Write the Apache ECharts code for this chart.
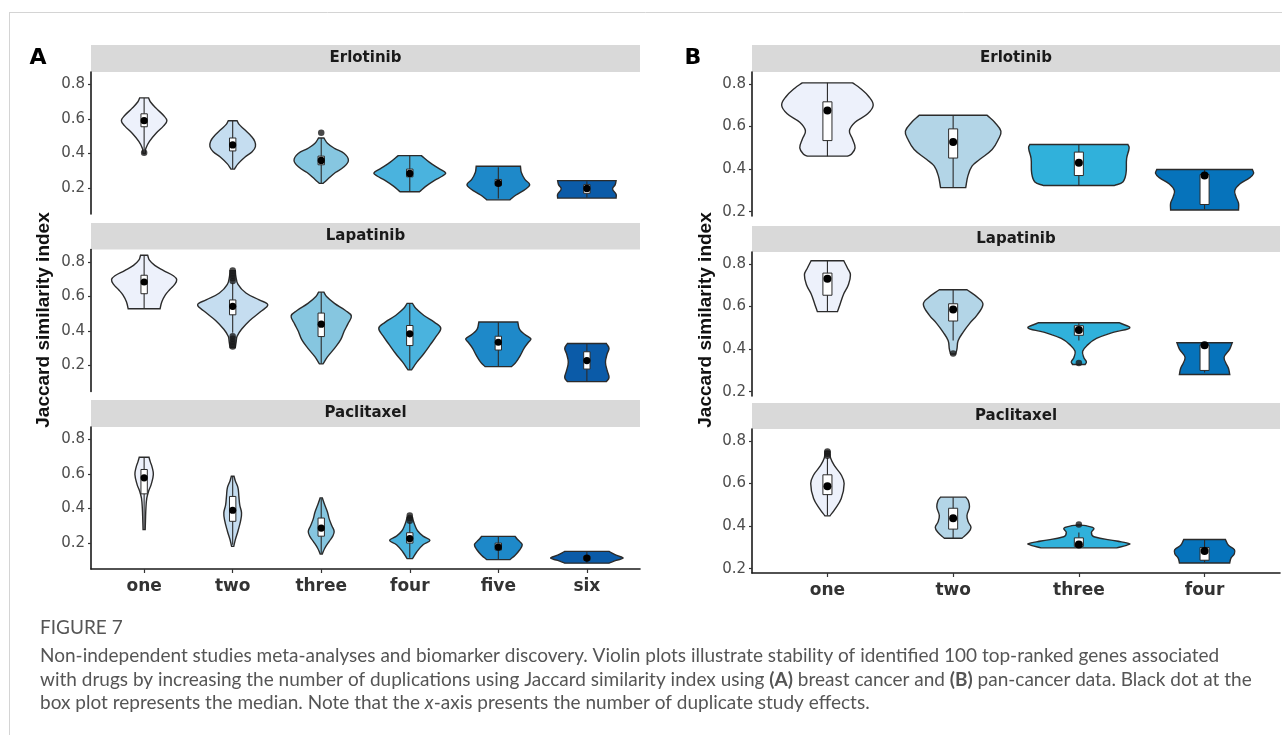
<!DOCTYPE html>
<html>
<head>
<meta charset="utf-8">
<script src="https://cdn.jsdelivr.net/npm/echarts@6/dist/echarts.min.js"></script>
<style>
  html, body { margin: 0; padding: 0; background: #ffffff; }
  #chart { width: 1282px; height: 735px; }
</style>
</head>
<body>
<div id="chart"></div>
<script>
// ---- categories and tick labels ----
const categoriesA = ['one', 'two', 'three', 'four', 'five', 'six'];
const categoriesB = ['one', 'two', 'three', 'four'];
const yTicks = [0.2, 0.4, 0.6, 0.8];
const drugs = ['Erlotinib', 'Lapatinib', 'Paclitaxel'];
const fillsA = ['#edf1fb', '#c5ddf0', '#86c6e0', '#4ab3de', '#1e89c9', '#0b5ba8'];
const fillsB = ['#edf1fb', '#b3d5e7', '#30b1db', '#0673bb'];

// ---- violin outlines: [similarity, half-width in category units], bottom to top ----
// box stats: [lower whisker, Q1, median, Q3, upper whisker]; outliers: [category, similarity]

// (A) breast cancer
const erlotinibA_shape = [
  [[0.40,0.012],[0.43,0.02],[0.47,0.06],[0.52,0.14],[0.56,0.22],[0.59,0.257],[0.62,0.22],[0.66,0.14],[0.70,0.07],[0.722,0.05]],
  [[0.31,0.02],[0.34,0.06],[0.38,0.14],[0.41,0.22],[0.44,0.257],[0.47,0.25],[0.50,0.21],[0.54,0.13],[0.57,0.07],[0.59,0.05]],
  [[0.227,0.02],[0.25,0.07],[0.29,0.16],[0.32,0.25],[0.36,0.307],[0.40,0.26],[0.43,0.15],[0.46,0.07],[0.49,0.03]],
  [[0.179,0.11],[0.21,0.18],[0.245,0.28],[0.27,0.37],[0.287,0.405],[0.31,0.34],[0.35,0.22],[0.388,0.13]],
  [[0.132,0.13],[0.16,0.2],[0.195,0.31],[0.22,0.354],[0.25,0.30],[0.29,0.26],[0.326,0.25]],
  [[0.142,0.33],[0.165,0.33],[0.195,0.29],[0.22,0.32],[0.243,0.33]]
];
const erlotinibA_box = [
  [0.42,0.555,0.59,0.63,0.722],[0.31,0.415,0.45,0.49,0.59],[0.23,0.335,0.36,0.385,0.49],
  [0.18,0.265,0.285,0.31,0.388],[0.14,0.215,0.227,0.25,0.32],[0.145,0.17,0.198,0.22,0.24]
];
const erlotinibA_outliers = [[1,0.405],[3,0.52]];

const lapatinibA_shape = [
  [[0.529,0.18],[0.57,0.2],[0.61,0.24],[0.64,0.29],[0.67,0.345],[0.697,0.368],[0.72,0.33],[0.75,0.22],[0.78,0.12],[0.81,0.06],[0.839,0.04]],
  [[0.305,0.03],[0.34,0.04],[0.37,0.05],[0.41,0.10],[0.46,0.19],[0.51,0.31],[0.552,0.396],[0.58,0.30],[0.62,0.15],[0.67,0.06],[0.72,0.035],[0.75,0.03]],
  [[0.21,0.02],[0.25,0.07],[0.30,0.15],[0.35,0.22],[0.40,0.26],[0.44,0.30],[0.488,0.34],[0.52,0.27],[0.56,0.15],[0.60,0.06],[0.625,0.03]],
  [[0.175,0.02],[0.22,0.08],[0.27,0.16],[0.32,0.23],[0.37,0.30],[0.417,0.35],[0.45,0.28],[0.49,0.16],[0.53,0.07],[0.56,0.03]],
  [[0.194,0.15],[0.22,0.2],[0.26,0.25],[0.30,0.29],[0.335,0.34],[0.355,0.368],[0.38,0.3],[0.41,0.24],[0.452,0.22]],
  [[0.107,0.22],[0.13,0.25],[0.17,0.23],[0.22,0.21],[0.27,0.23],[0.30,0.25],[0.328,0.22]]
];
const lapatinibA_box = [
  [0.53,0.616,0.684,0.723,0.839],[0.39,0.494,0.543,0.58,0.68],[0.21,0.368,0.44,0.504,0.625],
  [0.175,0.316,0.384,0.432,0.56],[0.194,0.29,0.335,0.37,0.452],[0.11,0.18,0.229,0.28,0.328]
];
const lapatinibA_outliers = [[2,0.69],[2,0.705],[2,0.72],[2,0.735],[2,0.75],[2,0.31],[2,0.325],[2,0.34],[2,0.355],[2,0.37]];

const paclitaxelA_shape = [
  [[0.278,0.012],[0.33,0.015],[0.40,0.02],[0.46,0.03],[0.50,0.05],[0.54,0.08],[0.597,0.104],[0.64,0.09],[0.67,0.07],[0.697,0.055]],
  [[0.181,0.012],[0.22,0.03],[0.27,0.06],[0.33,0.09],[0.375,0.1],[0.42,0.08],[0.47,0.07],[0.52,0.06],[0.56,0.03],[0.587,0.015]],
  [[0.137,0.012],[0.17,0.04],[0.21,0.09],[0.24,0.13],[0.268,0.146],[0.30,0.12],[0.34,0.09],[0.38,0.07],[0.42,0.04],[0.462,0.012]],
  [[0.11,0.03],[0.15,0.08],[0.19,0.15],[0.216,0.228],[0.24,0.15],[0.27,0.09],[0.30,0.06],[0.33,0.04],[0.35,0.03]],
  [[0.104,0.13],[0.13,0.19],[0.16,0.24],[0.19,0.27],[0.21,0.24],[0.225,0.21],[0.239,0.19]],
  [[0.084,0.25],[0.10,0.33],[0.113,0.41],[0.13,0.33],[0.152,0.25]]
];
const paclitaxelA_box = [
  [0.28,0.485,0.578,0.626,0.697],[0.19,0.326,0.39,0.47,0.587],[0.14,0.24,0.287,0.345,0.46],
  [0.115,0.20,0.226,0.26,0.32],[0.105,0.16,0.177,0.2,0.235],[0.085,0.1,0.113,0.125,0.15]
];
const paclitaxelA_outliers = [[4,0.33],[4,0.345],[4,0.36]];

// (B) pan-cancer
const erlotinibB_shape = [
  [[0.461,0.16],[0.47,0.19],[0.50,0.22],[0.54,0.2],[0.58,0.175],[0.62,0.22],[0.66,0.32],[0.70,0.364],[0.74,0.33],[0.78,0.26],[0.805,0.2]],
  [[0.313,0.1],[0.367,0.117],[0.414,0.15],[0.445,0.21],[0.492,0.31],[0.54,0.36],[0.578,0.38],[0.62,0.33],[0.653,0.27]],
  [[0.323,0.28],[0.34,0.35],[0.38,0.375],[0.45,0.38],[0.50,0.40],[0.516,0.39]],
  [[0.208,0.27],[0.24,0.27],[0.27,0.25],[0.30,0.24],[0.33,0.28],[0.36,0.36],[0.38,0.39],[0.398,0.38]]
];
const erlotinibB_box = [
  [0.461,0.534,0.675,0.716,0.805],[0.313,0.452,0.527,0.589,0.653],[0.323,0.37,0.43,0.48,0.516],[0.21,0.234,0.37,0.375,0.398]
];
const erlotinibB_outliers = [];

const lapatinibB_shape = [
  [[0.576,0.08],[0.61,0.1],[0.66,0.13],[0.70,0.165],[0.749,0.183],[0.78,0.16],[0.815,0.13]],
  [[0.377,0.02],[0.40,0.03],[0.44,0.04],[0.48,0.08],[0.52,0.13],[0.56,0.19],[0.61,0.237],[0.64,0.2],[0.679,0.11]],
  [[0.328,0.05],[0.34,0.06],[0.36,0.04],[0.39,0.03],[0.42,0.07],[0.45,0.14],[0.48,0.28],[0.50,0.405],[0.524,0.32]],
  [[0.281,0.2],[0.31,0.19],[0.36,0.155],[0.40,0.2],[0.43,0.22]]
];
const lapatinibB_box = [
  [0.576,0.653,0.73,0.757,0.815],[0.44,0.532,0.586,0.613,0.679],[0.44,0.465,0.49,0.51,0.524],[0.29,0.3,0.418,0.42,0.43]
];
const lapatinibB_outliers = [[2,0.38],[3,0.335]];

const paclitaxelB_shape = [
  [[0.448,0.02],[0.48,0.06],[0.53,0.11],[0.60,0.133],[0.64,0.11],[0.68,0.06],[0.72,0.025],[0.752,0.02]],
  [[0.343,0.07],[0.37,0.12],[0.394,0.142],[0.42,0.12],[0.45,0.11],[0.49,0.13],[0.52,0.12],[0.536,0.1]],
  [[0.298,0.3],[0.31,0.38],[0.317,0.405],[0.33,0.3],[0.35,0.12],[0.37,0.1],[0.39,0.12],[0.40,0.07],[0.405,0.02]],
  [[0.227,0.2],[0.25,0.21],[0.27,0.237],[0.29,0.237],[0.31,0.19],[0.337,0.166]]
];
const paclitaxelB_box = [
  [0.45,0.548,0.587,0.641,0.72],[0.343,0.386,0.437,0.484,0.536],[0.3,0.305,0.314,0.345,0.37],[0.23,0.24,0.283,0.3,0.337]
];
const paclitaxelB_outliers = [[1,0.73],[1,0.74],[1,0.75],[3,0.408]];

// ---- layout ----
const INK = '#2b2b2b';
const panels = {
  A: { left: 91, width: 549, tops: [72, 249.5, 427], stripTops: [45, 223, 400], height: 142,
       yMin: 0.05, yMax: 0.872, cats: categoriesA, fills: fillsA, dot: 3.6,
       shapes: [erlotinibA_shape, lapatinibA_shape, paclitaxelA_shape],
       boxes: [erlotinibA_box, lapatinibA_box, paclitaxelA_box],
       outliers: [erlotinibA_outliers, lapatinibA_outliers, paclitaxelA_outliers] },
  B: { left: 752, width: 528, tops: [72, 252, 429], stripTops: [45, 226, 403], height: 144,
       yMin: 0.18, yMax: 0.856, cats: categoriesB, fills: fillsB, dot: 4,
       shapes: [erlotinibB_shape, lapatinibB_shape, paclitaxelB_shape],
       boxes: [erlotinibB_box, lapatinibB_box, paclitaxelB_box],
       outliers: [erlotinibB_outliers, lapatinibB_outliers, paclitaxelB_outliers] }
};

function violinRenderer(shapes, fills, dotR) {
  const boxHalf = 0.036;
  return function (params, api) {
    const i = params.dataIndex;
    const x = api.value(0);
    const lo = api.value(1), q1 = api.value(2), med = api.value(3), q3 = api.value(4), hi = api.value(5);
    const prof = shapes[i];
    const right = prof.map(p => api.coord([x + p[1], p[0]]));
    const left = prof.slice().reverse().map(p => api.coord([x - p[1], p[0]]));
    // repeat the end points so the trimmed ends stay flat under smoothing
    const pts = [right[0]].concat(right, [right[right.length - 1]], [left[0]], left, [left[left.length - 1]]);
    const pLo = api.coord([x, lo]), pHi = api.coord([x, hi]), pMed = api.coord([x, med]);
    const b0 = api.coord([x - boxHalf, q3]), b1 = api.coord([x + boxHalf, q1]);
    return {
      type: 'group',
      children: [
        { type: 'polygon', shape: { points: pts, smooth: 0.4 },
          style: { fill: fills[i], stroke: INK, lineWidth: 1.4 } },
        { type: 'line', shape: { x1: pLo[0], y1: pLo[1], x2: pHi[0], y2: pHi[1] },
          style: { stroke: INK, lineWidth: 1.1 } },
        { type: 'rect', shape: { x: b0[0], y: b0[1], width: b1[0] - b0[0], height: b1[1] - b0[1] },
          style: { fill: '#ffffff', stroke: INK, lineWidth: 1 } },
        { type: 'circle', shape: { cx: pMed[0], cy: pMed[1], r: dotR }, style: { fill: '#000000' } }
      ]
    };
  };
}

const grid = [], xAxis = [], yAxis = [], series = [], graphic = [];
let gi = 0;
['A', 'B'].forEach(key => {
  const P = panels[key];
  const n = P.cats.length;
  const catValues = P.cats.map((c, k) => k + 1);
  for (let r = 0; r < 3; r++) {
    const isBottom = r === 2;
    grid.push({ left: P.left, top: P.tops[r], width: P.width, height: P.height });
    xAxis.push({
      gridIndex: gi, type: 'value', min: 0.4, max: n + 0.6, show: isBottom,
      splitLine: { show: false },
      axisLine: { show: true, onZero: false, lineStyle: { color: '#1a1a1a', width: 1.6 } },
      axisTick: { show: true, length: 4, customValues: catValues, lineStyle: { color: '#333333', width: 1.2 } },
      axisLabel: { customValues: catValues, formatter: v => P.cats[Math.round(v) - 1] || '',
                   color: '#333333', fontSize: 17, fontWeight: 'bold', fontFamily: 'DejaVu Sans', margin: 9 }
    });
    yAxis.push({
      gridIndex: gi, type: 'value', min: P.yMin, max: P.yMax,
      splitLine: { show: false },
      axisLine: { show: true, onZero: false, lineStyle: { color: '#1a1a1a', width: 1.6 } },
      axisTick: { show: true, length: 3, customValues: yTicks, lineStyle: { color: '#333333', width: 1.2 } },
      axisLabel: { customValues: yTicks, formatter: v => v.toFixed(1),
                   color: '#4d4d4d', fontSize: 15, fontFamily: 'DejaVu Sans', margin: 6 }
    });
    series.push({
      type: 'custom', xAxisIndex: gi, yAxisIndex: gi,
      renderItem: violinRenderer(P.shapes[r], P.fills, P.dot),
      data: P.boxes[r].map((b, k) => [k + 1].concat(b)),
      silent: true, z: 2
    });
    series.push({
      type: 'scatter', xAxisIndex: gi, yAxisIndex: gi,
      data: P.outliers[r], symbolSize: 6.5,
      itemStyle: { color: '#1a1a1a' }, silent: true, z: 3
    });
    // facet strip
    graphic.push({ type: 'rect', left: P.left, top: P.stripTops[r], silent: true,
      shape: { width: P.width, height: P.tops[r] - P.stripTops[r] }, style: { fill: '#d9d9d9' } });
    graphic.push({ type: 'text', x: P.left + P.width / 2, y: (P.stripTops[r] + P.tops[r]) / 2, silent: true,
      style: { text: drugs[r], fill: '#1a1a1a', font: 'bold 15px "DejaVu Sans"', align: 'center', verticalAlign: 'middle' } });
    gi++;
  }
  // shared y-axis title
  graphic.push({ type: 'text', x: key === 'A' ? 44 : 706, y: 320, rotation: Math.PI / 2, silent: true,
    style: { text: 'Jaccard similarity index', fill: '#111111', font: 'bold 19px "Liberation Sans"',
             align: 'center', verticalAlign: 'middle' } });
  // panel letter
  graphic.push({ type: 'text', x: key === 'A' ? 38 : 693, y: 58, silent: true,
    style: { text: key, fill: '#000000', font: 'bold 22px "DejaVu Sans"', align: 'center', verticalAlign: 'middle' } });
});

// page frame
graphic.push({ type: 'line', silent: true, shape: { x1: 9, y1: 12.5, x2: 1282, y2: 12.5 }, style: { stroke: '#d4d4d4', lineWidth: 1 } });
graphic.push({ type: 'line', silent: true, shape: { x1: 9.5, y1: 12, x2: 9.5, y2: 735 }, style: { stroke: '#d4d4d4', lineWidth: 1 } });

// figure caption
const captionRich = {
  b: { fontWeight: 'bold', fontFamily: 'Lato', fontSize: 19, fill: '#555555' },
  i: { fontStyle: 'italic', fontFamily: 'Lato', fontSize: 19, fill: '#555555' }
};
graphic.push({ type: 'text', x: 40, y: 628, silent: true,
  style: { text: 'FIGURE 7', fill: '#555555', font: '19px Lato', verticalAlign: 'middle' } });
const captionLines = [
  'Non-independent studies meta-analyses and biomarker discovery. Violin plots illustrate stability of identified 100 top-ranked genes associated',
  'with drugs by increasing the number of duplications using Jaccard similarity index using {b|(A)} breast cancer and {b|(B)} pan-cancer data. Black dot at the',
  'box plot represents the median. Note that the {i|x}-axis presents the number of duplicate study effects.'
];
captionLines.forEach((t, k) => {
  graphic.push({ type: 'text', x: 40, y: 656 + k * 23.5, silent: true,
    style: { text: t, fill: '#555555', font: '19px Lato', verticalAlign: 'middle', rich: captionRich } });
});

const chart = echarts.init(document.getElementById('chart'), null, { renderer: 'canvas' });
chart.setOption({
  animation: false,
  backgroundColor: '#ffffff',
  grid, xAxis, yAxis, series, graphic
});
</script>
</body>
</html>
